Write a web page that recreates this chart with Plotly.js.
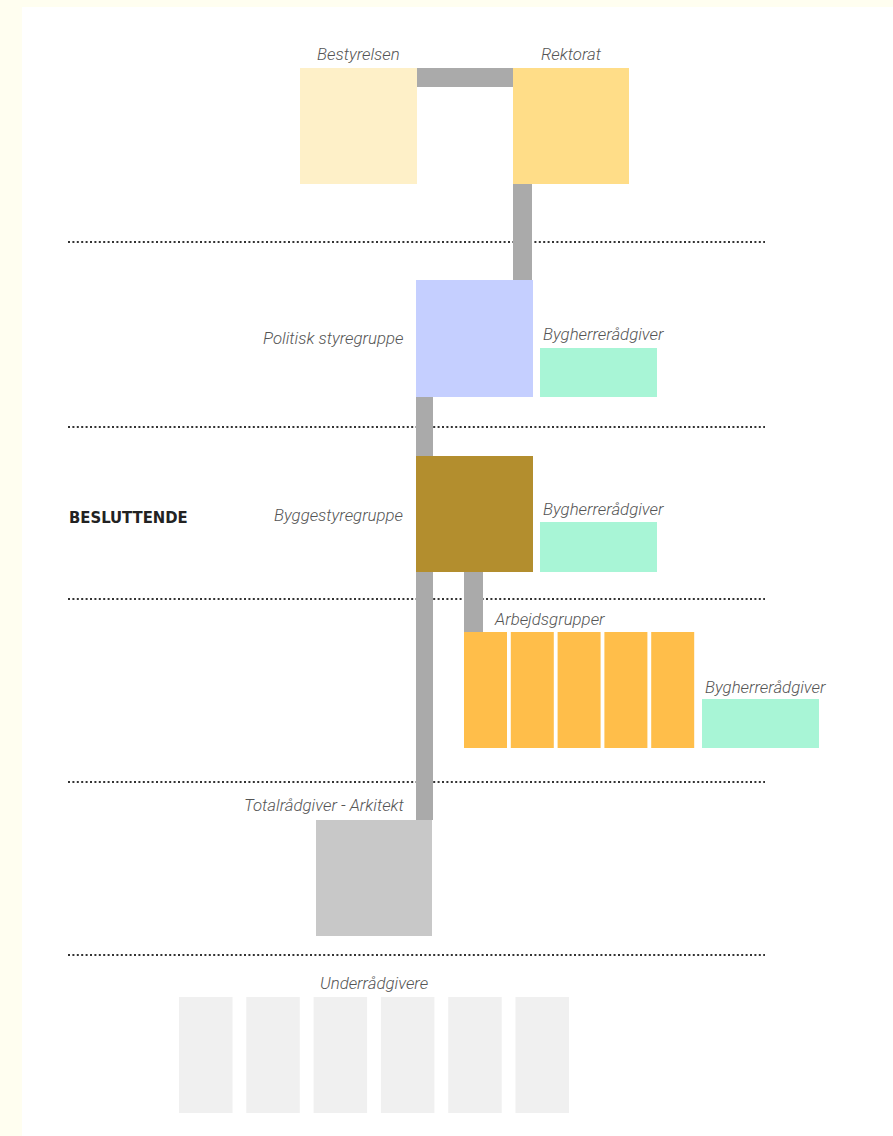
<!DOCTYPE html>
<html>
<head>
<meta charset="utf-8">
<script src="https://cdn.plot.ly/plotly-3.0.1.min.js"></script>
<style>html,body{margin:0;padding:0;background:#fff;}#chart{width:893px;height:1136px;}</style>
</head>
<body>
<div id="chart"></div>
<script>
// ---- data ----
const nodeNames = ["Bestyrelsen", "Rektorat", "Politisk styregruppe", "Bygherrerådgiver", "Byggestyregruppe", "Bygherrerådgiver", "Arbejdsgrupper", "Bygherrerådgiver", "Totalrådgiver - Arkitekt", "Underrådgivere"];
const nodeCounts = [1, 1, 1, 1, 1, 1, 5, 1, 1, 6];
const levelLabels = ["", "", "BESLUTTENDE", "", "", ""];
const links = [[0, 1], [1, 2], [2, 4], [4, 8], [4, 6]];

// ---- layout table (positions / sizes / styles) ----
const nodeGeom = [
  {x0: 300, y0: 68, w: 117, h: 116, gap: 0, color: "#FEF0C8", lx: 358, ly: 54, la: "center"},
  {x0: 513, y0: 68, w: 116, h: 116, gap: 0, color: "#FFDD88", lx: 571, ly: 54, la: "center"},
  {x0: 416, y0: 280, w: 117, h: 117, gap: 0, color: "#C5CFFF", lx: 405, ly: 338, la: "right"},
  {x0: 540, y0: 348, w: 117, h: 49, gap: 0, color: "#A8F5D6", lx: 541, ly: 334, la: "left"},
  {x0: 416, y0: 456, w: 117, h: 116, gap: 0, color: "#B38E2E", lx: 405, ly: 515, la: "right"},
  {x0: 540, y0: 522, w: 117, h: 50, gap: 0, color: "#A8F5D6", lx: 541, ly: 509, la: "left"},
  {x0: 464, y0: 632, w: 43, h: 116, gap: 3.8, color: "#FFBE4A", lx: 492, ly: 619, la: "left"},
  {x0: 702, y0: 699, w: 117, h: 49, gap: 0, color: "#A8F5D6", lx: 703, ly: 687, la: "left"},
  {x0: 316, y0: 820, w: 116, h: 116, gap: 0, color: "#C8C8C8", lx: 407, ly: 805, la: "right"},
  {x0: 179, y0: 997, w: 53.5, h: 116, gap: 13.8, color: "#F0F0F0", lx: 374, ly: 983, la: "center"}
];
const linkGeom = [
  {x0: 417, x1: 513, y0: 68, y1: 87},
  {x0: 513, x1: 532, y0: 184, y1: 280},
  {x0: 416, x1: 433, y0: 397, y1: 456},
  {x0: 416, x1: 433, y0: 572, y1: 820},
  {x0: 464, x1: 483, y0: 572, y1: 632}
];
const dividerY = [242, 427, 599, 782, 955];
const levelLabelY = [150, 335, 517, 690, 868, 1050];

const shapes = [];
const annotations = [];

// background border strips
shapes.push({type: "rect", xref: "paper", yref: "paper", x0: 0, x1: 22 / 893, y0: 0, y1: 1, fillcolor: "#FFFEF0", line: {width: 0}, layer: "below"});
shapes.push({type: "rect", xref: "paper", yref: "paper", x0: 0, x1: 1, y0: 1 - 7 / 1136, y1: 1, fillcolor: "#FFFEF0", line: {width: 0}, layer: "below"});

// dividers
dividerY.forEach(y => shapes.push({type: "line", xref: "x", yref: "y", x0: 68, x1: 765, y0: y, y1: y,
  line: {color: "#333333", width: 2, dash: "2px,2.4px"}}));

// links
links.forEach((l, i) => {
  const g = linkGeom[i];
  shapes.push({type: "rect", xref: "x", yref: "y", x0: g.x0, x1: g.x1, y0: g.y0, y1: g.y1, fillcolor: "#AAAAAA", line: {width: 0}});
});

// nodes
const labelFont = {family: "Roboto, 'DejaVu Sans', sans-serif", size: 16.8, color: "#555555", style: "italic", weight: 300};
nodeNames.forEach((name, i) => {
  const g = nodeGeom[i];
  for (let k = 0; k < nodeCounts[i]; k++) {
    const x0 = g.x0 + k * (g.w + g.gap);
    shapes.push({type: "rect", xref: "x", yref: "y", x0: x0, x1: x0 + g.w, y0: g.y0, y1: g.y0 + g.h, fillcolor: g.color, line: {width: 0}});
  }
  annotations.push({xref: "x", yref: "y", x: g.lx, y: g.ly, text: name, showarrow: false,
    xanchor: g.la, yanchor: "middle", font: labelFont});
});

// level labels
levelLabels.forEach((t, i) => {
  if (!t) return;
  annotations.push({xref: "x", yref: "y", x: 67, y: levelLabelY[i], text: "<b>" + t + "</b>", showarrow: false,
    xanchor: "left", yanchor: "middle",
    font: {family: "'Liberation Sans Narrow', 'DejaVu Sans Condensed', sans-serif", size: 16.5, color: "#222222"}});
});

const layout = {
  width: 893, height: 1136,
  margin: {l: 0, r: 0, t: 0, b: 0},
  paper_bgcolor: "#FFFFFF", plot_bgcolor: "#FFFFFF",
  xaxis: {range: [0, 893], visible: false, fixedrange: true},
  yaxis: {range: [1136, 0], visible: false, fixedrange: true},
  showlegend: false,
  shapes: shapes,
  annotations: annotations
};

Plotly.newPlot("chart", [{x: [], y: [], type: "scatter", mode: "markers", hoverinfo: "skip"}], layout, {displayModeBar: false, staticPlot: true});
</script>
</body>
</html>
